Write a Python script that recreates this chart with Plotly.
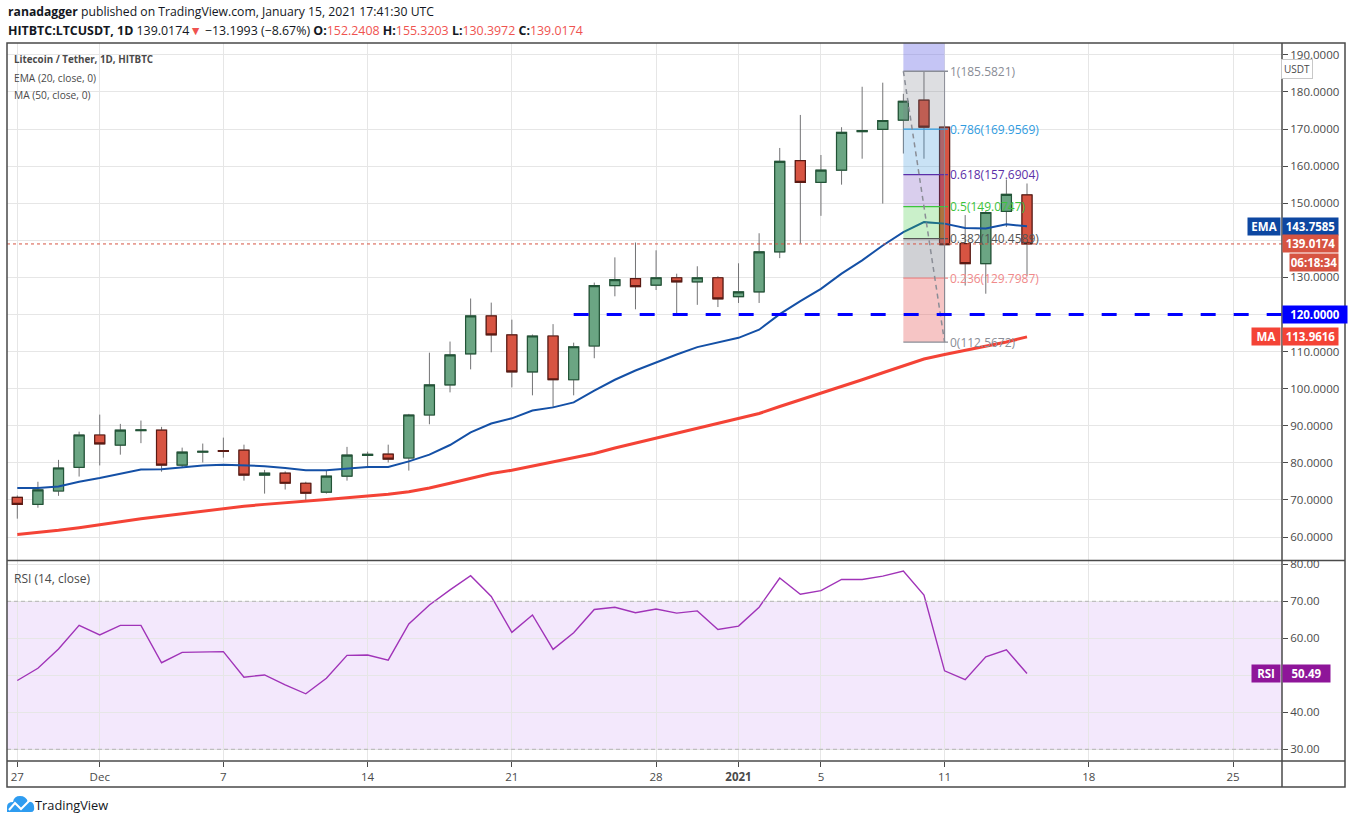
import pandas as pd
import plotly.graph_objects as go
from plotly.subplots import make_subplots

# daily LTC/USDT candles
dates = pd.date_range('2020-11-27', '2021-01-15', freq='D')

opens = [70.7, 68.8, 72.4, 78.8, 87.5, 84.8, 88.7, 88.8, 79.4, 82.9,
         83.3, 83.4, 76.7, 77.2, 74.5, 72.1, 76.4, 82.0, 82.35, 81.3,
         92.9, 101.0, 109.4, 119.6, 114.5, 104.5, 114.2, 102.4, 111.5, 127.8,
         129.65, 127.9, 129.9, 128.8, 129.9, 124.8, 126.1, 136.9, 161.5, 155.6,
         158.9, 169.3, 169.9, 172.4, 177.8, 170.5, 139.1, 133.7, 147.8, 152.2408]
highs = [71.2, 74.9, 80.8, 88.4, 93.0, 90.5, 91.4, 89.7, 84.1, 85.2,
         86.8, 84.9, 78.1, 77.7, 74.9, 77.8, 84.3, 83.0, 84.9, 93.2,
         109.7, 112.7, 124.3, 123.2, 118.6, 114.6, 117.4, 112.4, 128.6, 135.4,
         139.4, 137.3, 131.0, 133.0, 130.3, 133.8, 141.9, 164.9, 173.8, 163.0,
         170.5, 181.4, 182.5, 179.5, 185.5821, 171.0, 146.8, 147.9, 156.4, 155.3203]
lows = [64.95, 67.9, 71.1, 76.3, 79.3, 82.2, 85.3, 77.6, 78.6, 80.1,
        81.4, 75.2, 71.7, 72.8, 69.5, 71.7, 75.2, 78.7, 80.1, 77.9,
        90.4, 99.0, 105.2, 109.8, 100.35, 98.2, 95.0, 98.2, 108.2, 124.9,
        121.4, 126.6, 120.0, 122.6, 122.0, 123.1, 123.1, 135.2, 139.1, 146.6,
        155.0, 162.0, 149.9, 163.4, 162.0, 112.5672, 127.8, 125.6, 143.6, 130.3972]
closes = [68.8, 72.7, 78.6, 87.5, 85.1, 88.8, 88.9, 79.4, 82.9, 83.1,
          83.1, 76.7, 77.2, 74.5, 71.8, 76.4, 82.1, 82.3, 81.0, 92.9,
          101.0, 109.1, 119.6, 114.5, 104.5, 114.2, 102.4, 111.3, 127.8, 129.4,
          127.5, 129.9, 128.8, 129.9, 124.2, 126.1, 136.9, 161.3, 155.6, 158.9,
          169.1, 169.6, 172.3, 177.5, 170.5, 138.8, 133.7, 147.5, 152.4, 139.0174]

ema20 = [73.2, 73.2, 73.6, 74.9, 75.9, 77.0, 78.2, 78.3, 78.8, 79.3,
         79.5, 79.3, 79.1, 78.6, 78.0, 78.0, 78.5, 78.9, 78.9, 80.4,
         82.2, 84.8, 88.2, 90.6, 92.0, 94.1, 94.95, 96.3, 99.5, 102.4,
         104.9, 107.1, 109.2, 111.2, 112.35, 113.7, 115.9, 120.1, 123.6, 126.9,
         131.0, 134.6, 138.6, 142.2, 144.9, 144.5, 143.3, 143.2, 144.3, 143.7585]
ma50 = [60.7, 61.2, 61.8, 62.5, 63.2, 64.1, 64.9, 65.6, 66.3, 67.0,
        67.7, 68.3, 68.8, 69.2, 69.6, 70.1, 70.6, 71.0, 71.5, 72.2,
        73.2, 74.5, 75.9, 77.1, 78.0, 79.1, 80.1, 81.3, 82.5, 84.0,
        85.3, 86.7, 88.0, 89.4, 90.6, 92.0, 93.3, 95.2, 97.0, 98.6,
        100.5, 102.4, 104.3, 106.2, 108.0, 109.2, 110.3, 111.4, 112.6, 113.9616]
rsi14 = [48.6, 51.9, 57.1, 63.5, 60.9, 63.5, 63.5, 53.4, 56.2, 56.4,
         56.4, 49.5, 50.1, 47.4, 45.0, 49.2, 55.4, 55.5, 54.1, 63.9,
         69.0, 73.1, 76.9, 71.3, 61.6, 66.3, 57.0, 61.5, 67.8, 68.4,
         66.9, 67.9, 66.8, 67.4, 62.4, 63.3, 68.4, 76.3, 71.9, 72.9,
         75.9, 75.9, 76.8, 78.2, 71.7, 51.2, 48.8, 55.0, 56.9, 50.49]

# fibonacci retracement drawn from the Jan 10 high to the Jan 11 low
fib_ratios = ['1', '0.786', '0.618', '0.5', '0.382', '0.236', '0']
fib_prices = [185.5821, 169.9569, 157.6904, 149.0747, 140.4589, 129.7987, 112.5672]
fib_lines = ['#8a8d96', '#2f9be0', '#5b2fa8', '#3cc43c', '#555555', '#f08a8a', '#8a8d96']
fib_fills = ['rgba(120,123,134,0.25)', 'rgba(60,150,220,0.28)', 'rgba(103,58,183,0.25)',
             'rgba(60,200,60,0.27)', 'rgba(120,123,134,0.35)', 'rgba(230,90,90,0.35)']

support = 120.0
tick_dates = ['2020-11-27', '2020-12-01', '2020-12-07', '2020-12-14', '2020-12-21', '2020-12-28',
              '2021-01-01', '2021-01-05', '2021-01-11', '2021-01-18', '2021-01-25']
tick_text = ['27', 'Dec', '7', '14', '21', '28', '<b>2021</b>', '5', '11', '18', '25']
price_ticks = list(range(60, 200, 10))
rsi_ticks = list(range(30, 90, 10))

# pixel -> paper helpers (plot area spans x 7..1282, y 43..761)
L, R, T, B = 7, 1282, 43, 761
def px(x): return (x - L) / (R - L)
def py(y): return (B - y) / (B - T)
def pp(x, y): return f'{px(x):.5f},{py(y):.5f}'

FONT = 'Liberation Sans Narrow, Open Sans, sans-serif'
GRID = '#e6e6e6'
FRAME = '#4a4a4a'
x_start = pd.Timestamp('2020-11-26 12:00')
x_end = pd.Timestamp('2021-01-27 09:00')

fig = make_subplots(rows=2, cols=1, shared_xaxes=True, vertical_spacing=0)

body_hi = [max(o, c) for o, c in zip(opens, closes)]
body_lo = [min(o, c) for o, c in zip(opens, closes)]

# wicks first (gray), then the bodies with dark borders on top
fig.add_trace(go.Candlestick(x=dates, open=opens, high=highs, low=lows, close=closes,
                             increasing=dict(line=dict(color='#737375', width=1), fillcolor='#6ba583'),
                             decreasing=dict(line=dict(color='#737375', width=1), fillcolor='#d75442'),
                             whiskerwidth=0, showlegend=False, hoverinfo='skip'), row=1, col=1)
fig.add_trace(go.Candlestick(x=dates, open=opens, high=body_hi, low=body_lo, close=closes,
                             increasing=dict(line=dict(color='#225437', width=1.2), fillcolor='#6ba583'),
                             decreasing=dict(line=dict(color='#5b1a13', width=1.2), fillcolor='#d75442'),
                             whiskerwidth=0, showlegend=False, hoverinfo='skip'), row=1, col=1)
fig.add_trace(go.Scatter(x=dates, y=ema20, mode='lines', line=dict(color='#1450a6', width=2),
                         showlegend=False, hoverinfo='skip'), row=1, col=1)
fig.add_trace(go.Scatter(x=dates, y=ma50, mode='lines', line=dict(color='#f44336', width=3),
                         showlegend=False, hoverinfo='skip'), row=1, col=1)
fig.add_trace(go.Scatter(x=dates, y=rsi14, mode='lines', line=dict(color='#a033b8', width=1.4),
                         showlegend=False, hoverinfo='skip'), row=2, col=1)

shapes = []
# fib zones (drawn over the candles, semi transparent)
fx0, fx1 = pd.Timestamp('2021-01-09'), pd.Timestamp('2021-01-11')
shapes.append(dict(type='rect', xref='x', yref='y', x0=fx0, x1=fx1, y0=fib_prices[0], y1=200,
                   fillcolor='rgba(110,110,230,0.4)', line=dict(width=0), layer='above'))
for i in range(len(fib_fills)):
    shapes.append(dict(type='rect', xref='x', yref='y', x0=fx0, x1=fx1,
                       y0=fib_prices[i + 1], y1=fib_prices[i],
                       fillcolor=fib_fills[i], line=dict(width=0), layer='above'))
for price, col in zip(fib_prices, fib_lines):
    shapes.append(dict(type='line', xref='x', yref='y', x0=fx0, x1=fx1 + pd.Timedelta(hours=4),
                       y0=price, y1=price, line=dict(color=col, width=1.3), layer='above'))
shapes.append(dict(type='line', xref='x', yref='y', x0=fx1, x1=fx1, y0=fib_prices[-1], y1=fib_prices[0],
                   line=dict(color='#8a8d96', width=1), layer='above'))
shapes.append(dict(type='line', xref='x', yref='y', x0=fx0, x1=fx1, y0=fib_prices[0], y1=fib_prices[-1],
                   line=dict(color='#8a8d96', width=1.5, dash='5px,4px'), layer='above'))

# support line and last price line
shapes.append(dict(type='line', xref='x', yref='y', x0=pd.Timestamp('2020-12-24'), x1=x_end,
                   y0=support, y1=support, line=dict(color='#0000ff', width=3, dash='15px,18px'), layer='above'))
shapes.append(dict(type='line', xref='paper', yref='y', x0=0, x1=1, y0=closes[-1], y1=closes[-1],
                   line=dict(color='#d75442', width=1, dash='dot'), layer='above'))

# RSI band
shapes.append(dict(type='rect', xref='x2 domain', yref='y2', x0=0, x1=1, y0=30, y1=70,
                   fillcolor='rgba(150,50,230,0.114)', line=dict(width=0), layer='below'))
for lvl in (30, 70):
    shapes.append(dict(type='line', xref='x2 domain', yref='y2', x0=0, x1=1, y0=lvl, y1=lvl,
                       line=dict(color='#b4b4b4', width=1, dash='4px,3px')))

# frames
fr = dict(color=FRAME, width=1.5)
shapes.append(dict(type='rect', xref='paper', yref='paper', x0=px(7), x1=px(1345), y0=py(787), y1=py(43), line=fr))
shapes.append(dict(type='line', xref='paper', yref='paper', x0=1, x1=1, y0=py(787), y1=py(43), line=fr))
shapes.append(dict(type='line', xref='paper', yref='paper', x0=px(7), x1=px(1345), y0=py(560.5), y1=py(560.5), line=fr))
shapes.append(dict(type='line', xref='paper', yref='paper', x0=px(7), x1=px(1345), y0=0, y1=0, line=fr))

# TradingView logo
cloud = ('M ' + pp(7, 812) + ' L ' + pp(31, 812) + ' Q ' + pp(35, 812) + ' ' + pp(34, 806) +
         ' Q ' + pp(33, 801) + ' ' + pp(28, 802) + ' Q ' + pp(26, 796) + ' ' + pp(20, 796) +
         ' Q ' + pp(14, 796) + ' ' + pp(13, 802) + ' Q ' + pp(7, 802) + ' ' + pp(7, 807) + ' Z')
shapes.append(dict(type='path', xref='paper', yref='paper', path=cloud, fillcolor='#2e9cf0', line=dict(width=0)))
zig = 'M ' + pp(9, 810) + ' L ' + pp(15, 803) + ' L ' + pp(21, 809) + ' L ' + pp(31, 799)
shapes.append(dict(type='path', xref='paper', yref='paper', path=zig, line=dict(color='white', width=2)))

ann = []
def note(text, x, y, size=12, color='#131722', **kw):
    ann.append(dict(text=text, xref='paper', yref='paper', x=px(x), y=py(y), xanchor='left', yanchor='middle',
                    showarrow=False, font=dict(family=FONT, size=size, color=color), **kw))

red = '#ef5350'
note('<b>ranadagger</b> published on TradingView.com, January 15, 2021 17:41:30 UTC', 6, 12, 12.2)
note(f'<b>HITBTC:LTCUSDT, 1D</b> {closes[-1]:.4f}<span style="color:{red}">▼</span> −13.1993 (−8.67%) '
     f'<b>O:</b><span style="color:{red}">{opens[-1]:.4f}</span> <b>H:</b><span style="color:{red}">{highs[-1]:.4f}</span> '
     f'<b>L:</b><span style="color:{red}">{lows[-1]:.4f}</span> <b>C:</b><span style="color:{red}">{closes[-1]:.4f}</span>',
     6, 30, 12.4)
note('<b>Litecoin / Tether, 1D, HITBTC</b>', 12, 60, 9.8, '#4a4a4a')
note('EMA (20, close, 0)', 12, 78, 10.2, '#4a4a4a')
note('MA (50, close, 0)', 12, 95, 10.2, '#4a4a4a')
note('RSI (14, close)', 12, 578, 12, '#4a4a4a')
note('TradingView', 33, 805, 12.8)
ann.append(dict(text='USDT', xref='paper', yref='paper', x=px(1313), y=py(59), showarrow=False,
                font=dict(family=FONT, size=10, color='#4a4a4a'), bgcolor='white',
                bordercolor='#c8c8c8', borderwidth=1, borderpad=2))

# fib labels
for r, price, col in zip(fib_ratios, fib_prices, fib_lines):
    ann.append(dict(text=f'{r}({price:.4f})', xref='x', yref='y', x=fx1 + pd.Timedelta(hours=4), y=price,
                    xanchor='left', yanchor='middle', showarrow=False,
                    font=dict(family=FONT, size=12, color=col)))

# price scale badges
def badge(text, y, color, x_left, width, yref='y', xanchor='left'):
    ann.append(dict(text=f'<b>{text}</b>', xref='paper', yref=yref, x=px(x_left), y=y, xanchor=xanchor,
                    yanchor='middle', showarrow=False, bgcolor=color, width=width, height=15,
                    font=dict(family=FONT, size=11.5, color='white')))

badge(f'{ema20[-1]:.4f}', ema20[-1], '#0d47a1', 1282, 53)
badge('EMA', ema20[-1], '#0d47a1', 1281, 30, xanchor='right')
badge(f'{closes[-1]:.4f}', closes[-1], '#d75442', 1282, 53)
badge('06:18:34', py(262), '#d75442', 1289, 46, yref='paper')
badge(f'{support:.4f}', support, '#0000ff', 1282, 62)
badge(f'{ma50[-1]:.4f}', ma50[-1], '#f44336', 1282, 53)
badge('MA', ma50[-1], '#f44336', 1281, 26, xanchor='right')
badge(f'{rsi14[-1]:.2f}', rsi14[-1], '#8e1599', 1282, 45, yref='y2')
badge('RSI', rsi14[-1], '#8e1599', 1281, 26, yref='y2', xanchor='right')

fig.update_layout(width=1351, height=824, autosize=False,
                  margin=dict(l=L, r=1351 - R, t=T, b=824 - B),
                  paper_bgcolor='white', plot_bgcolor='white',
                  font=dict(family=FONT, size=11, color='#4a4a4a'),
                  showlegend=False, hovermode=False,
                  shapes=shapes, annotations=ann)

axis_x = dict(range=[x_start, x_end], tickvals=tick_dates, ticktext=tick_text,
              showgrid=True, gridcolor=GRID, zeroline=False, rangeslider=dict(visible=False))
fig.update_xaxes(**axis_x)
fig.update_xaxes(showticklabels=False, ticks='', row=1, col=1)
fig.update_xaxes(ticks='outside', ticklen=5, tickcolor=FRAME, tickfont=dict(size=11.5, color='#4a4a4a'),
                 row=2, col=1)

# tick labels hidden behind the price badges are left blank
price_text = ['' if v in (120, 140) else f'{v:.4f}' for v in price_ticks]
rsi_text = ['' if v == 50 else f'{v:.2f}' for v in rsi_ticks]
fig.update_yaxes(side='right', range=[53.8, 193.2], tickvals=price_ticks, ticktext=price_text,
                 showgrid=True, gridcolor=GRID, zeroline=False, ticks='outside', ticklen=5,
                 tickcolor=FRAME, tickfont=dict(size=11.5, color='#4a4a4a'), row=1, col=1)
fig.update_yaxes(side='right', range=[26.84, 80.89], tickvals=rsi_ticks, ticktext=rsi_text,
                 showgrid=True, gridcolor=GRID, zeroline=False, ticks='outside', ticklen=5,
                 tickcolor=FRAME, tickfont=dict(size=11.5, color='#4a4a4a'), row=2, col=1)

fig.layout.yaxis.domain = [py(560), 1]
fig.layout.yaxis2.domain = [0, py(561)]

fig.write_html('out.html', config={'displayModeBar': False},
               post_script="document.body.style.margin='0';document.body.style.overflow='hidden';")
